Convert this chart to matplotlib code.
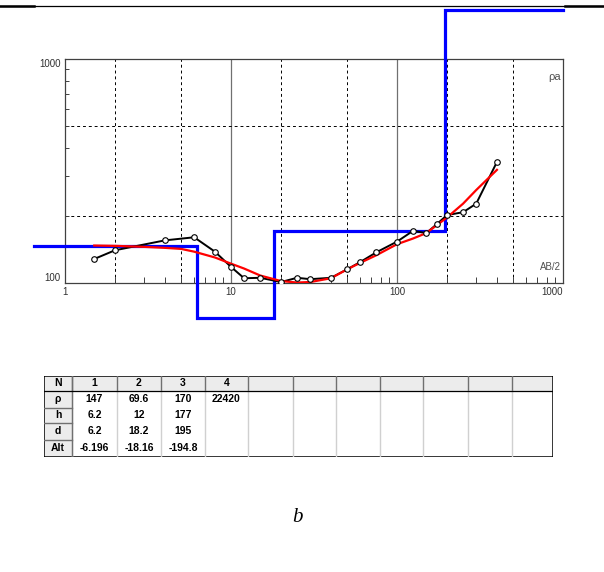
import numpy as np
import matplotlib.pyplot as plt
from matplotlib.lines import Line2D
from matplotlib.patches import Rectangle
from matplotlib.ticker import NullFormatter

# field sounding: AB/2 (m) and apparent resistivity (Ohm.m)
ab2 = [1.5, 2, 4, 6, 8, 10, 12, 15, 20, 25, 30, 40, 50, 60, 75,
       100, 125, 150, 175, 200, 250, 300, 400]
rho_a = [128, 140, 155, 160, 138, 118, 105, 105.5, 101, 105.5, 104, 105.5, 115, 124, 137,
         153, 171, 167, 184, 201, 207, 226, 347]

# fitted model response
ab2_fit = [1.5, 2, 3, 4, 5, 6, 8, 10, 12, 15, 20, 25, 30, 40, 50, 60, 75,
           100, 125, 150, 200, 250, 300, 400]
rho_fit = [147, 146.5, 145, 143.5, 142, 138, 130, 122, 116, 108, 102, 100.5, 101, 105, 115, 123, 133,
           149, 158, 167, 196, 226, 260, 320]

# layered model
layer_n = [1, 2, 3, 4]
layer_rho = [147, 69.6, 170, 22420]
layer_h = [6.2, 12, 177]
layer_d = [6.2, 18.2, 195]
layer_alt = [-6.196, -18.16, -194.8]

W, H = 604, 572
fig = plt.figure(figsize=(W / 100, H / 100), dpi=100)
plt.rcParams['font.family'] = ['Liberation Sans', 'DejaVu Sans']

# top rule of the page
fig.add_artist(Line2D([0, 1], [1 - 6 / H, 1 - 6 / H], color='k', lw=0.9))
fig.add_artist(Line2D([0, 34 / W], [1 - 6 / H, 1 - 6 / H], color='k', lw=1.8))
fig.add_artist(Line2D([565 / W, 1], [1 - 6 / H, 1 - 6 / H], color='k', lw=1.8))

ax = fig.add_axes([65 / W, 1 - 283 / H, 498 / W, 224 / H])
ax.set_xscale('log')
ax.set_yscale('log')
ax.set_xlim(1, 1000)
ax.set_ylim(100, 1000)

for v in [2, 5, 20, 50, 200, 500]:
    ax.axvline(v, color='k', lw=0.7, ls=(0, (3, 3)), zorder=1)
for v in [10, 100]:
    ax.axvline(v, color='#707070', lw=0.9, zorder=1)
for v in [200, 500]:
    ax.axhline(v, color='k', lw=0.7, ls=(0, (3, 3)), zorder=1)

for s in ax.spines.values():
    s.set_color('#404040')
    s.set_linewidth(0.9)

ax.set_xticks([1, 10, 100, 1000])
ax.set_xticklabels(['1', '10', '100', '1000'])
ax.set_yticks([100, 1000])
ax.set_yticklabels(['100', '1000'])
ax.yaxis.set_minor_formatter(NullFormatter())
ax.xaxis.set_minor_formatter(NullFormatter())
ax.tick_params(which='major', length=0, labelsize=7, colors='#303030', pad=3)
ax.tick_params(axis='x', which='minor', direction='in', length=4, width=0.7, color='#404040')
ax.tick_params(axis='y', which='minor', direction='in', length=3, width=0.7, color='#404040')
xl = ax.get_xticklabels()
xl[0].set_ha('center')
xl[-1].set_ha('right')
yl = ax.get_yticklabels()
yl[0].set_va('bottom')
yl[1].set_va('top')

ax.text(0.995, 0.92, 'ρa', transform=ax.transAxes, ha='right', va='center',
        fontsize=8, color='#505050')
ax.text(0.995, 0.07, 'AB/2', transform=ax.transAxes, ha='right', va='center',
        fontsize=7, color='#505050')

# layered model as a step line (extends past the frame)
x_left, x_right, rho_cap = 0.65, 1000, 1650
shown = [min(r, rho_cap) for r in layer_rho]
bx, by = [x_left], [shown[0]]
for i, d in enumerate(layer_d):
    bx += [d, d]
    by += [shown[i], shown[i + 1]]
bx.append(x_right)
by.append(shown[-1])
ax.plot(bx, by, color='#0000ff', lw=2.3, clip_on=False, zorder=3, solid_joinstyle='miter')

ax.plot(ab2, rho_a, color='k', lw=1.4, zorder=4)
ax.plot(ab2_fit, rho_fit, color='#ff0000', lw=1.6, zorder=5)
ax.plot(ab2, rho_a, ls='none', marker='o', ms=4, mfc='white', mec='k', mew=0.8, zorder=6)

# parameter table
tx0, ty0, tw, th = 44, 375.7, 509, 81
tab = fig.add_axes([tx0 / W, 1 - (ty0 + th) / H, tw / W, th / H])
tab.set_xlim(0, tw)
tab.set_ylim(th, 0)
tab.axis('off')

col_edges = [0, 28, 73, 117, 161, 204, 249, 292, 336, 379, 424, 468, 509]
row_edges = [0, 15.3, 32, 47.3, 64.3, 81]
header = ['N'] + [str(n) for n in layer_n]
row_labels = ['ρ', 'h', 'd', 'Alt']
rows = [[f'{v:g}' for v in layer_rho],
        [f'{v:g}' for v in layer_h],
        [f'{v:g}' for v in layer_d],
        [f'{v:g}' for v in layer_alt]]

gray = '#ececec'
tab.add_patch(Rectangle((0, 0), tw, row_edges[1], facecolor=gray, edgecolor='none'))
tab.add_patch(Rectangle((0, 0), col_edges[1], th, facecolor=gray, edgecolor='none'))
for c in col_edges[1:-1]:
    tab.plot([c, c], [0, row_edges[1]], color='#707070', lw=1.0)
    tab.plot([c, c], [row_edges[1], th], color='#d0d0d0', lw=1.0)
tab.plot([col_edges[1], col_edges[1]], [0, th], color='#707070', lw=1.0)
for r in row_edges[2:-1]:
    tab.plot([0, col_edges[1]], [r, r], color='#707070', lw=1.0)
tab.plot([0, tw], [row_edges[1], row_edges[1]], color='k', lw=0.9)
tab.add_patch(Rectangle((0, 0), tw, th, facecolor='none', edgecolor='k', lw=1.1))

def cell_text(ci, ri, s):
    cx = (col_edges[ci] + col_edges[ci + 1]) / 2
    cy = (row_edges[ri] + row_edges[ri + 1]) / 2
    tab.text(cx, cy, s, ha='center', va='center', fontsize=7.5, fontweight='bold', color='k')

for ci, s in enumerate(header):
    cell_text(ci, 0, s)
for ri, lab in enumerate(row_labels):
    cell_text(0, ri + 1, lab)
    for ci, s in enumerate(rows[ri]):
        cell_text(ci + 1, ri + 1, s)

fig.text(297 / W, 1 - 518 / H, 'b', ha='center', va='center', fontsize=15,
         style='italic', family='Liberation Serif')

fig.savefig('out.png', dpi=100)
